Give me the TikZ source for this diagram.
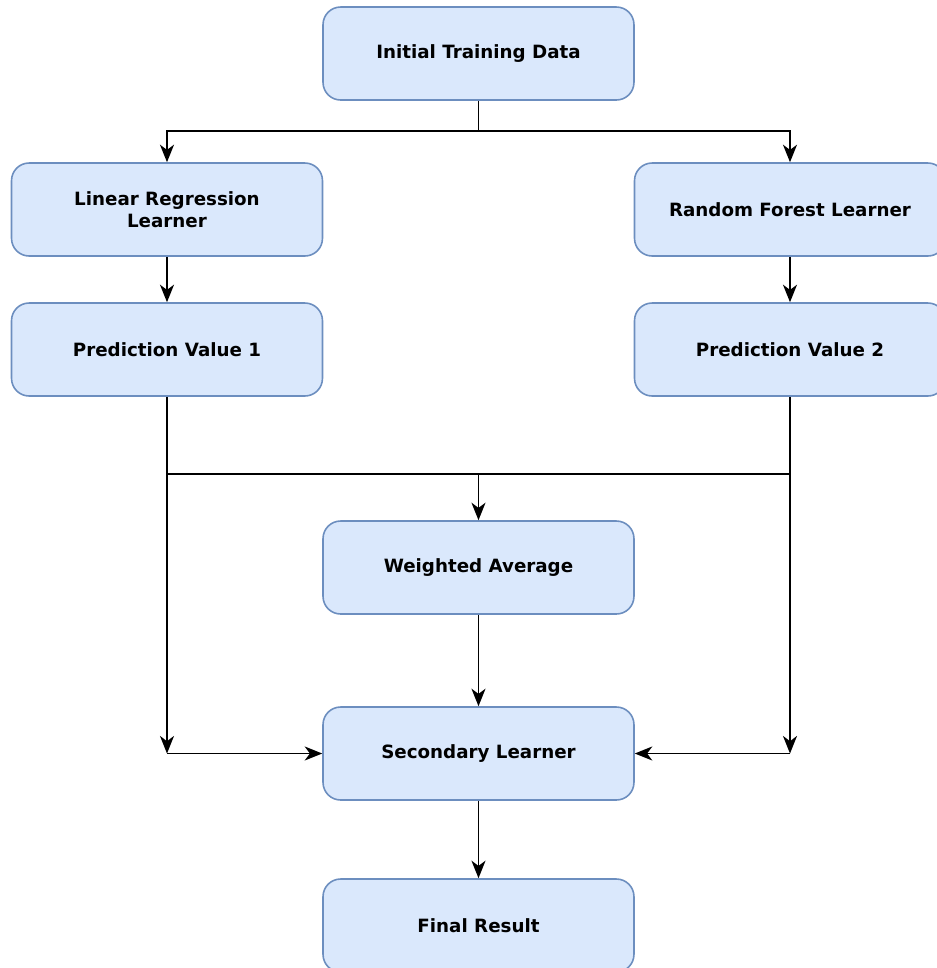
\documentclass[tikz,border=0pt]{standalone}
\usepackage{fontspec}
\setmainfont{DejaVu Sans}
\usepackage{xcolor}
\usepackage{tikz}
\usetikzlibrary{arrows.meta,positioning}
\definecolor{boxfill}{HTML}{DAE8FC}
\definecolor{boxline}{HTML}{6C8EBF}
\tikzset{
  box/.style={rectangle, draw=boxline, fill=boxfill, line width=0.9pt, rounded corners=10pt, minimum width=6.22cm, minimum height=1.86cm, align=center, font=\fontsize{10.4}{12.8}\selectfont\bfseries},
  arrow/.style={-{Stealth[length=10pt, width=8pt, inset=3pt]}, line width=1pt},
  plain/.style={line width=1pt},
}

\begin{document}
\begin{tikzpicture}[x=0.02cm, y=-0.02cm]
  \useasboundingbox (0,0) rectangle (937,968);

  % Boxes - pixel grid of the original
  \node[box] (init) at (478.5,53.5) {Initial Training Data};
  \node[box] (linreg) at (167,209.5) {Linear Regression\\Learner};
  \node[box] (forest) at (790,209.5) {Random Forest Learner};
  \node[box] (pred1) at (167,349.5) {Prediction Value 1};
  \node[box] (pred2) at (790,349.5) {Prediction Value 2};
  \node[box] (wavg) at (478.5,567.5) {Weighted Average};
  \node[box] (second) at (478.5,753.5) {Secondary Learner};
  \node[box] (final) at (478.5,925.5) {Final Result};

  % Junction points
  \coordinate (split) at (478.5,131);
  \coordinate (merge) at (478.5,474);
  \coordinate (leftjoin) at (167,474);
  \coordinate (rightjoin) at (790,474);
  \coordinate (leftend) at (167,753.5);
  \coordinate (rightend) at (790,753.5);

  % Split to the two learners
  \draw[plain] (init.south) -- (split);
  \draw[arrow] (split) -| (linreg.north);
  \draw[arrow] (split) -| (forest.north);
  \draw[arrow] (linreg) -- (pred1);
  \draw[arrow] (forest) -- (pred2);

  % Merge of the predictions
  \draw[plain] (pred1.south) -- (leftjoin) -- (rightjoin);
  \draw[plain] (pred2.south) -- (rightjoin);
  \draw[arrow] (merge) -- (wavg.north);
  \draw[arrow] (leftjoin) -- (leftend);
  \draw[arrow] (rightjoin) -- (rightend);
  \draw[arrow] (leftend) -- (second.west);
  \draw[arrow] (rightend) -- (second.east);

  \draw[arrow] (wavg) -- (second);
  \draw[arrow] (second) -- (final);
\end{tikzpicture}
\end{document}
